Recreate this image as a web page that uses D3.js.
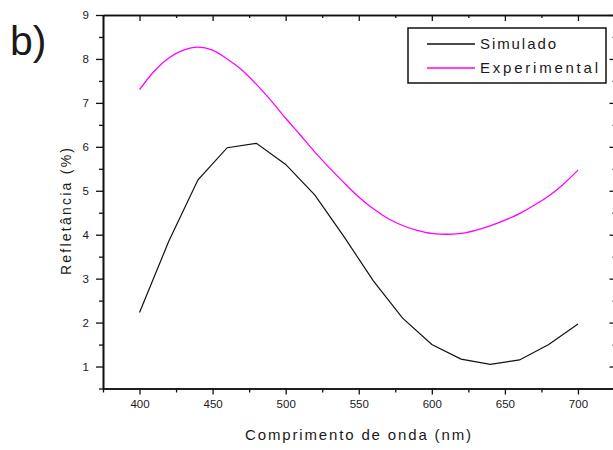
<!DOCTYPE html>
<html>
<head>
<meta charset="utf-8">
<title>Refletância</title>
<script src="https://d3js.org/d3.v7.min.js"></script>
<style>
  body { margin: 0; background: #fff; }
  svg { display: block; }
  text { font-family: "Liberation Sans", Arial, sans-serif; fill: #1a1a1a; }
  .axis path, .axis line { stroke: #111; }
  .axis text { font-size: 11.5px; }
</style>
</head>
<body>
<svg width="613" height="450"></svg>
<script>
// wavelengths (nm) and reflectance (%)
var simWave = [400, 420, 440, 460, 480, 500, 520, 540, 560, 580, 600, 620, 640, 660, 680, 700];
var simulado = [2.23, 3.85, 5.25, 5.98, 6.08, 5.6, 4.9, 3.95, 2.95, 2.1, 1.5, 1.17, 1.05, 1.15, 1.5, 1.97];

var expWave = [400, 410, 420, 430, 440, 450, 460, 470, 480, 490, 500, 510, 520, 530, 540, 550,
  560, 570, 580, 590, 600, 610, 620, 630, 640, 650, 660, 670, 680, 690, 700];
var experimental = [7.3, 7.72, 8.02, 8.2, 8.27, 8.2, 8.0, 7.75, 7.42, 7.05, 6.65, 6.27, 5.88, 5.52, 5.18, 4.86,
  4.59, 4.37, 4.21, 4.1, 4.03, 4.01, 4.03, 4.1, 4.2, 4.33, 4.48, 4.67, 4.88, 5.15, 5.47];

var xTicks = [400, 450, 500, 550, 600, 650, 700];
var yTicks = [1, 2, 3, 4, 5, 6, 7, 8, 9];
var seriesNames = ["Simulado", "Experimental"];
var seriesColors = ["#111", "#ff00ff"];

var plotL = 103, plotR = 614.5, plotT = 15, plotB = 388.5;

var svg = d3.select("svg");

var x = d3.scaleLinear().domain([375, 725]).range([plotL, plotR]);
var y = d3.scaleLinear().domain([0.5, 9]).range([plotB, plotT]);

var xMinor = d3.range(375, 726, 25).filter(function(v) { return xTicks.indexOf(v) < 0; });
var yMinor = d3.range(0.5, 9, 1);

function styleAxis(g) {
  g.attr("class", "axis");
  g.select(".domain").attr("stroke-width", 1.6);
  g.selectAll(".tick line").attr("stroke-width", 1.3);
}

// bottom
svg.append("g").attr("transform", "translate(0," + plotB + ")")
  .call(d3.axisBottom(x).tickValues(xTicks).tickSize(6).tickSizeOuter(0).tickPadding(5))
  .call(styleAxis);
svg.append("g").attr("transform", "translate(0," + plotB + ")")
  .call(d3.axisBottom(x).tickValues(xMinor).tickSize(4).tickSizeOuter(0).tickFormat(""))
  .call(styleAxis);
// top
svg.append("g").attr("transform", "translate(0," + plotT + ")")
  .call(d3.axisTop(x).tickValues(xTicks).tickSize(-6).tickSizeOuter(0).tickFormat(""))
  .call(styleAxis);
svg.append("g").attr("transform", "translate(0," + plotT + ")")
  .call(d3.axisTop(x).tickValues(xMinor).tickSize(-3).tickSizeOuter(0).tickFormat(""))
  .call(styleAxis);
// left
svg.append("g").attr("transform", "translate(" + plotL + ",0)")
  .call(d3.axisLeft(y).tickValues(yTicks).tickSize(7).tickSizeOuter(0).tickPadding(7))
  .call(styleAxis);
svg.append("g").attr("transform", "translate(" + plotL + ",0)")
  .call(d3.axisLeft(y).tickValues(yMinor).tickSize(4).tickSizeOuter(0).tickFormat(""))
  .call(styleAxis);
// right
svg.append("g").attr("transform", "translate(" + plotR + ",0)")
  .call(d3.axisRight(y).tickValues(yTicks).tickSize(-5).tickSizeOuter(0).tickFormat(""))
  .call(styleAxis);
svg.append("g").attr("transform", "translate(" + plotR + ",0)")
  .call(d3.axisRight(y).tickValues(yMinor).tickSize(-2).tickSizeOuter(0).tickFormat(""))
  .call(styleAxis);

svg.selectAll(".axis text").attr("font-family", "Liberation Sans, Arial, sans-serif")
  .attr("fill", "#1a1a1a");

// curves
var simLine = d3.line()
  .x(function(d, i) { return x(simWave[i]); })
  .y(function(d) { return y(d); });

var expLine = d3.line()
  .x(function(d, i) { return x(expWave[i]); })
  .y(function(d) { return y(d); })
  .curve(d3.curveMonotoneX);

svg.append("path").attr("d", simLine(simulado))
  .attr("fill", "none").attr("stroke", seriesColors[0]).attr("stroke-width", 1.2);
svg.append("path").attr("d", expLine(experimental))
  .attr("fill", "none").attr("stroke", seriesColors[1]).attr("stroke-width", 1.3);

// axis titles
svg.append("text")
  .attr("x", 245).attr("y", 440)
  .attr("textLength", 226).attr("lengthAdjust", "spacing")
  .attr("font-size", 15)
  .text("Comprimento de onda (nm)");

svg.append("text")
  .attr("transform", "translate(71,275) rotate(-90)")
  .attr("textLength", 127).attr("lengthAdjust", "spacing")
  .attr("font-size", 14)
  .text("Refletância (%)");

// panel label
svg.append("text")
  .attr("x", 10).attr("y", 55)
  .attr("font-size", 41)
  .text("b)");

// legend
var legend = svg.append("g");
legend.append("rect")
  .attr("x", 408).attr("y", 28).attr("width", 198).attr("height", 55)
  .attr("fill", "#fff").attr("stroke", "#111").attr("stroke-width", 1.5);

var legendLen = [76, 118];
seriesNames.forEach(function(name, i) {
  var ly = 44 + i * 24;
  legend.append("line")
    .attr("x1", 427).attr("x2", 475).attr("y1", ly).attr("y2", ly)
    .attr("stroke", seriesColors[i]).attr("stroke-width", 1.3);
  legend.append("text")
    .attr("x", 480).attr("y", ly + 5)
    .attr("textLength", legendLen[i]).attr("lengthAdjust", "spacing")
    .attr("font-size", 15)
    .text(name);
});
</script>
</body>
</html>
